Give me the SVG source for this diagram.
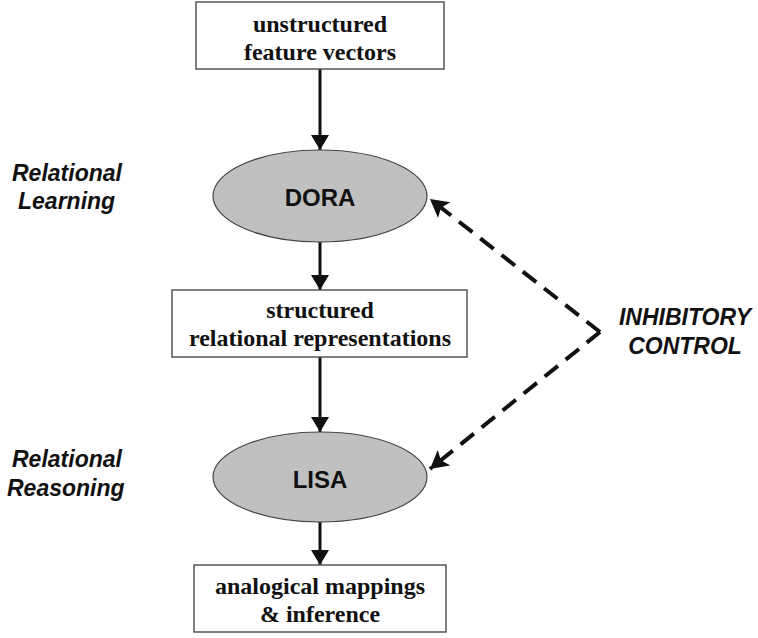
<svg xmlns="http://www.w3.org/2000/svg" width="758" height="638" viewBox="0 0 758 638">
<defs>
<style>
.box{fill:#fff;stroke:#555;stroke-width:1.5}
.ell{fill:#c0c0c0;stroke:#444;stroke-width:1.2}
.serif{font-family:"Liberation Serif","Times New Roman",serif;font-weight:bold;font-size:24px;fill:#111;text-anchor:middle}
.sans{font-family:"Liberation Sans",Arial,sans-serif;font-weight:bold;font-size:24px;fill:#111;text-anchor:middle}
.lab{font-family:"Liberation Sans",Arial,sans-serif;font-weight:bold;font-style:italic;font-size:23px;fill:#111}
.conn{stroke:#111;stroke-width:3;fill:none}
.dash{stroke:#111;stroke-width:4;fill:none;stroke-dasharray:17 10}
</style>
<marker id="ah" markerUnits="userSpaceOnUse" markerWidth="22" markerHeight="22" refX="15" refY="9" orient="auto">
<path d="M0,0 L15,9 L0,18 Z" fill="#111"/>
</marker>
<marker id="ahd" markerUnits="userSpaceOnUse" markerWidth="24" markerHeight="24" refX="18" refY="10" orient="auto">
<path d="M0,0 L18,10 L0,20 L4,10 Z" fill="#111"/>
</marker>
</defs>
<g id="connectors">
<line class="conn" x1="320" y1="69" x2="320" y2="150" marker-end="url(#ah)"/>
<line class="conn" x1="320" y1="242" x2="320" y2="290" marker-end="url(#ah)"/>
<line class="conn" x1="320" y1="357" x2="320" y2="432" marker-end="url(#ah)"/>
<line class="conn" x1="320" y1="522" x2="320" y2="565" marker-end="url(#ah)"/>
<path class="dash" d="M600,332 L430,199" marker-end="url(#ahd)"/>
<path class="dash" d="M600,332 L430,469" marker-end="url(#ahd)"/>
</g>
<g id="n-input">
<rect class="box" x="196" y="2" width="248" height="67"/>
<text class="serif" x="320" y="32">unstructured</text>
<text class="serif" x="320" y="60">feature vectors</text>
</g>
<g id="n-dora">
<ellipse class="ell" cx="320" cy="196" rx="107" ry="46"/>
<text class="sans" x="320" y="206">DORA</text>
</g>
<g id="n-structured">
<rect class="box" x="172" y="290" width="295" height="67"/>
<text class="serif" x="320" y="318">structured</text>
<text class="serif" x="320" y="346">relational representations</text>
</g>
<g id="n-lisa">
<ellipse class="ell" cx="320" cy="477" rx="107" ry="45"/>
<text class="sans" x="320" y="488">LISA</text>
</g>
<g id="n-output">
<rect class="box" x="194" y="565" width="252" height="67"/>
<text class="serif" x="320" y="594">analogical mappings</text>
<text class="serif" x="320" y="622">&amp; inference</text>
</g>
<g id="labels">
<text class="lab" x="12" y="181">Relational</text>
<text class="lab" x="18" y="209">Learning</text>
<text class="lab" x="12" y="467">Relational</text>
<text class="lab" x="7" y="496">Reasoning</text>
<text class="lab" x="685" y="325" text-anchor="middle">INHIBITORY</text>
<text class="lab" x="685" y="354" text-anchor="middle">CONTROL</text>
</g>
</svg>
